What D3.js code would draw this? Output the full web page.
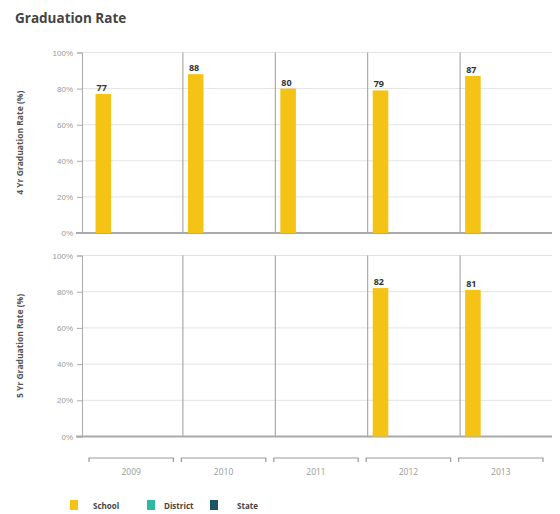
<!DOCTYPE html>
<html>
<head>
<meta charset="utf-8">
<script src="https://cdn.jsdelivr.net/npm/d3@7"></script>
<style>
  body { margin: 0; background: #fff; }
  svg { display: block; font-family: "Open Sans", "DejaVu Sans", sans-serif; }
</style>
</head>
<body>
<svg id="chart" width="560" height="514"></svg>
<script>
const years = ["2009", "2010", "2011", "2012", "2013"];
const seriesNames = ["School", "District", "State"];
const seriesColors = ["#f4c315", "#2fb9a3", "#1f5663"];
// 4 year and 5 year rates per series (null = no data)
const school4 = [77, 88, 80, 79, 87];
const district4 = [null, null, null, null, null];
const state4 = [null, null, null, null, null];
const school5 = [null, null, null, 82, 81];
const district5 = [null, null, null, null, null];
const state5 = [null, null, null, null, null];
const yTicks = [0, 20, 40, 60, 80, 100];

const svg = d3.select("#chart");

svg.append("text")
    .attr("x", 15).attr("y", 23)
    .attr("font-size", 13.5).attr("font-weight", "bold")
    .attr("fill", "#444")
    .text("Graduation Rate");

const x = d3.scaleBand().domain(years).range([90, 552]).padding(0);
const xs = d3.scaleBand().domain(seriesNames).range([0, x.bandwidth()])
    .paddingInner(0.527).paddingOuter(0.168);

const panels = [
    { title: "4 Yr Graduation Rate (%)", top: 52.5, bottom: 233, data: [school4, district4, state4] },
    { title: "5 Yr Graduation Rate (%)", top: 255.5, bottom: 436.5, data: [school5, district5, state5] }
];

panels.forEach((p) => {
    const y = d3.scaleLinear().domain([0, 100]).range([p.bottom, p.top]);
    const g = svg.append("g");

    // gridlines
    g.selectAll(".grid")
        .data(yTicks.filter(d => d > 0))
        .enter().append("line")
        .attr("x1", 82).attr("x2", 552)
        .attr("y1", d => y(d)).attr("y2", d => y(d))
        .attr("stroke", "#e3e3e3").attr("stroke-width", 1);

    // left axis
    const axis = g.append("g")
        .attr("transform", "translate(82,0)")
        .call(d3.axisLeft(y).tickValues(yTicks).tickFormat(d => d + "%").tickSize(5));
    axis.select(".domain").attr("stroke", "#aaa");
    axis.selectAll(".tick line").attr("stroke", "#aaa");
    axis.selectAll("text").attr("fill", "#999").attr("font-size", 8).attr("dx", "-1");

    // year dividers
    g.selectAll(".div")
        .data(years.slice(1))
        .enter().append("line")
        .attr("x1", d => x(d) + 0.5).attr("x2", d => x(d) + 0.5)
        .attr("y1", p.top).attr("y2", p.bottom)
        .attr("stroke", "#9a9a9a").attr("stroke-width", 1);

    // baseline
    g.append("line")
        .attr("x1", 76).attr("x2", 552)
        .attr("y1", p.bottom).attr("y2", p.bottom)
        .attr("stroke", "#aaa").attr("stroke-width", 2);

    // bars
    seriesNames.forEach((s, si) => {
        const vals = years.map((yr, i) => ({ year: yr, v: p.data[si][i] })).filter(d => d.v != null);
        g.selectAll(".bar" + si)
            .data(vals)
            .enter().append("rect")
            .attr("x", d => x(d.year) + xs(s))
            .attr("y", d => y(d.v))
            .attr("width", xs.bandwidth())
            .attr("height", d => p.bottom - y(d.v))
            .attr("fill", seriesColors[si]);
        g.selectAll(".lab" + si)
            .data(vals)
            .enter().append("text")
            .attr("x", d => x(d.year) + xs(s) + 1)
            .attr("y", d => y(d.v) - 3)
            .attr("font-size", 9).attr("font-weight", "bold")
            .attr("fill", "#333")
            .text(d => d.v);
    });

    // axis title
    svg.append("text")
        .attr("transform", "translate(23," + ((p.top + p.bottom) / 2) + ") rotate(-90)")
        .attr("text-anchor", "middle")
        .attr("font-size", 8.5).attr("font-weight", "bold")
        .attr("fill", "#555")
        .text(p.title);
});

// year brackets
const bracketY = 458;
const br = svg.append("g");
years.forEach((yr) => {
    const x0 = x(yr) - 1, x1 = x(yr) + x.bandwidth() - 9;
    br.append("path")
        .attr("d", `M${x0},${bracketY + 4}V${bracketY}H${x1}V${bracketY + 4}`)
        .attr("fill", "none").attr("stroke", "#999").attr("stroke-width", 1.2);
    br.append("text")
        .attr("x", (x0 + x1) / 2).attr("y", bracketY + 17)
        .attr("text-anchor", "middle")
        .attr("font-size", 8.5).attr("fill", "#999")
        .text(yr);
});

// legend
const legendX = [70, 147, 210];
const lg = svg.append("g");
seriesNames.forEach((s, i) => {
    lg.append("rect")
        .attr("x", legendX[i]).attr("y", 500)
        .attr("width", 8).attr("height", 10)
        .attr("fill", seriesColors[i]);
    lg.append("text")
        .attr("x", legendX[i] + 23 - (i === 1 ? 6 : 0) + (i === 2 ? 4 : 0)).attr("y", 509)
        .attr("font-size", 8).attr("font-weight", "bold")
        .attr("fill", "#444")
        .text(s);
});
</script>
</body>
</html>
